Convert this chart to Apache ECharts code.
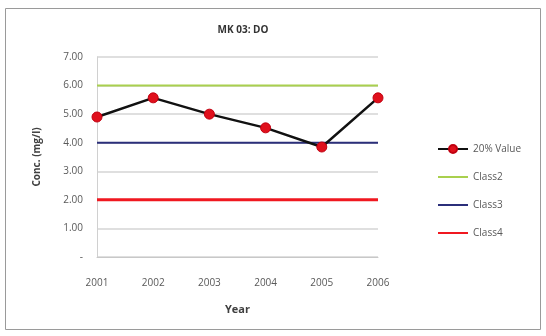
<!DOCTYPE html>
<html><head><meta charset="utf-8">
<script src="https://cdn.jsdelivr.net/npm/echarts@6/dist/echarts.min.js"></script>
<style>html,body{margin:0;padding:0;background:#fff}#c{width:546px;height:336px}</style>
</head><body><div id="c"></div>
<script>
const years = ['2001','2002','2003','2004','2005','2006'];
const value20 = [4.90, 5.57, 5.00, 4.52, 3.85, 5.57];
const class2 = [6, 6, 6, 6, 6, 6];
const class3 = [4, 4, 4, 4, 4, 4];
const class4 = [2, 2, 2, 2, 2, 2];
const yTicks = ['-', '1.00', '2.00', '3.00', '4.00', '5.00', '6.00', '7.00'];

const font = 'Open Sans';
const txt = '#595959';
const hideSym = { itemStyle: { opacity: 0 } };
const chart = echarts.init(document.getElementById('c'));
chart.setOption({
  animation: false,
  title: { text: 'MK 03: DO', left: 238, top: 20, textAlign: 'center',
    textStyle: { fontFamily: font, fontSize: 10, fontWeight: 'bold', color: '#333' } },
  graphic: [{ type: 'rect', shape: { x: 5.5, y: 8.5, width: 535, height: 321 },
    style: { fill: 'none', stroke: '#9a9a9a', lineWidth: 1 } }],
  grid: { left: 97, right: 168, top: 57, bottom: 79 },
  legend: {
    orient: 'vertical', left: 432, top: 139, itemGap: 18, itemWidth: 30, itemHeight: 10,
    textStyle: { fontFamily: font, fontSize: 10, color: txt },
    data: [
      { name: '20% Value' },
      Object.assign({ name: 'Class2' }, hideSym),
      Object.assign({ name: 'Class3' }, hideSym),
      Object.assign({ name: 'Class4' }, hideSym)
    ]
  },
  xAxis: {
    type: 'category', data: years, boundaryGap: false,
    name: 'Year', nameLocation: 'middle', nameGap: 47,
    nameTextStyle: { fontFamily: font, fontSize: 11, fontWeight: 'bold', color: '#404040' },
    axisLine: { lineStyle: { color: '#c8c8c8', width: 1 } },
    axisTick: { show: false },
    axisLabel: { fontFamily: font, fontSize: 10, color: txt, margin: 21 }
  },
  yAxis: {
    type: 'value', min: 0, max: 7, interval: 1,
    name: 'Conc. (mg/l)', nameLocation: 'middle', nameGap: 55,
    nameTextStyle: { fontFamily: font, fontSize: 10, fontWeight: 'bold', color: '#404040' },
    axisLine: { show: true, lineStyle: { color: '#d0d0d0' } },
    axisTick: { show: false },
    splitLine: { lineStyle: { color: '#d4d4d4', width: 1.5 } },
    axisLabel: { fontFamily: font, fontSize: 10, color: txt, margin: 14,
      formatter: (v) => yTicks[Math.round(v)] }
  },
  series: [
    { name: 'Class2', type: 'line', data: class2, symbol: 'none', z: 2,
      lineStyle: { color: '#a9d04e', width: 2 }, itemStyle: { color: '#a9d04e' } },
    { name: 'Class3', type: 'line', data: class3, symbol: 'none', z: 2,
      lineStyle: { color: '#2b2f7a', width: 2 }, itemStyle: { color: '#2b2f7a' } },
    { name: 'Class4', type: 'line', data: class4, symbol: 'none', z: 2,
      lineStyle: { color: '#f01820', width: 3 }, itemStyle: { color: '#f01820' } },
    { name: '20% Value', type: 'line', data: value20, symbol: 'circle', symbolSize: 10, z: 5,
      lineStyle: { color: '#111', width: 2.5 },
      itemStyle: { color: '#e0101c', borderColor: '#c00010', borderWidth: 1 } }
  ]
});
</script></body></html>
